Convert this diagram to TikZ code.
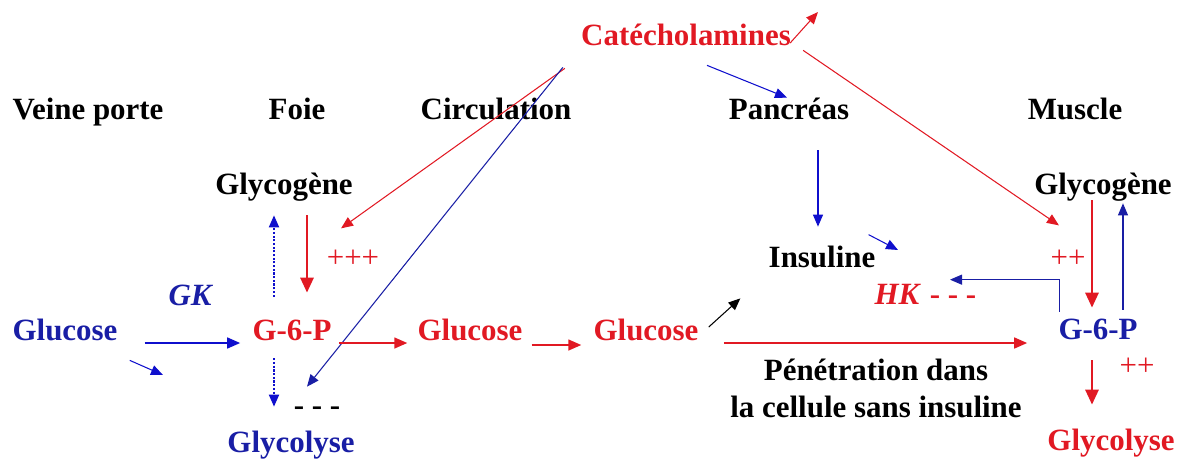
\documentclass[tikz,border=0pt]{standalone}
\usepackage{fontspec}
\setmainfont{Liberation Serif}
\usetikzlibrary{arrows.meta}

\definecolor{cred}{RGB}{225,25,35}
\definecolor{cblue}{RGB}{25,30,165}
\definecolor{ablue}{RGB}{15,15,205}

\begin{document}
\begin{tikzpicture}[
    x=0.02cm, y=-0.02cm,
    lbl/.style={inner sep=0pt,font=\fontsize{17.6}{21}\selectfont\bfseries,text height=0.42cm,text depth=0.14cm},
    signs/.style={inner sep=0pt,font=\fontsize{17.6}{21}\selectfont,text height=0.42cm,text depth=0.14cm},
    arrow/.style={-{Triangle[length=0.24cm,width=0.2cm]},line width=0.6pt},
    dotarrow/.style={arrow,line width=1.1pt,dash pattern=on 1.2pt off 0.9pt},
    midarrow/.style={-{Triangle[length=0.26cm,width=0.22cm]},line width=0.9pt},
    bigarrow/.style={-{Triangle[length=0.3cm,width=0.26cm]},line width=1.6pt}
]
\useasboundingbox (0,0) rectangle (1184,461);

% titres des colonnes
\node[lbl,cred] (catec) at (686,38) {Catécholamines};
\node[lbl] (veine) at (88,112) {Veine porte};
\node[lbl] (foie) at (297,112) {Foie};
\node[lbl] (circ) at (496,112) {Circulation};
\node[lbl] (panc) at (789,112) {Pancréas};
\node[lbl] (musc) at (1075,112) {Muscle};

% foie
\node[lbl] (glyL) at (284,187) {Glycogène};
\node[signs,cred] (plusL) at (353,260) {+++};
\node[lbl,cblue,font=\fontsize{17.6}{21}\selectfont\bfseries\itshape] (gk) at (190,298) {GK};
\node[lbl,cblue] (glcL) at (65,333) {Glucose};
\node[lbl,cred] (g6pL) at (292,333) {G-6-P};
\node[lbl] (dashL) at (317,408) {- - -};
\node[lbl,cblue] (glysL) at (291,445) {Glycolyse};

% circulation
\node[lbl,cred] (glcA) at (470,333) {Glucose};
\node[lbl,cred] (glcB) at (646,333) {Glucose};

% pancreas et muscle
\node[lbl] (insul) at (822,260) {Insuline};
\node[lbl,cred,font=\fontsize{17.6}{21}\selectfont\bfseries\itshape] (hk) at (897,297) {HK};
\node[lbl,cred] (dashR) at (953,297) {- - -};
\node[lbl,align=center,text height=,text depth=] (penet) at (876,388) {Pénétration dans\\la cellule sans insuline};
\node[lbl] (glyR) at (1103,187) {Glycogène};
\node[signs,cred] (plusA) at (1068,260) {++};
\node[lbl,cblue] (g6pR) at (1098,332) {G-6-P};
\node[signs,cred] (plusB) at (1137,368) {++};
\node[lbl,cred] (glysR) at (1111,443) {Glycolyse};

% bouts libres
\coordinate (vp) at (163,375);
\coordinate (ins) at (898,250);
\coordinate (up) at (818,12);

% foie
\draw[midarrow,ablue] ([shift={(27,10)}]glcL.east) -- ([shift={(-12,10)}]g6pL.west);
\draw[arrow,ablue] ([shift={(12,13)}]glcL.south east) -- (vp);
\draw[dotarrow,ablue] ([shift={(-18,-22)}]g6pL.north) -- ([shift={(-10,14)}]glyL.south);
\draw[dotarrow,ablue] ([shift={(-18,11)}]g6pL.south) -- ([shift={(-17,-24)}]glysL.north);
\draw[bigarrow,cred] ([shift={(23,14)}]glyL.south) -- ([shift={(15,-26)}]g6pL.north);
\draw[arrow,cred] ([shift={(-16,16)}]catec.south west) -- ([shift={(-12,27)}]glyL.south east);
\draw[arrow,cblue] ([shift={(-18,15)}]catec.south west) -- ([shift={(16,-44)}]glysL.north);

% circulation
\draw[midarrow,cred] ([shift={(7,10)}]g6pL.east) -- ([shift={(-10,10)}]glcA.west);
\draw[midarrow,cred] ([shift={(9,12)}]glcA.east) -- ([shift={(-12,12)}]glcB.west);
\draw[arrow,black] ([shift={(10,-6)}]glcB.east) -- ([shift={(-28,24)}]insul.south west);
\draw[midarrow,cred] ([shift={(25,10)}]glcB.east) -- ([shift={(-31,11)}]g6pR.west);

% pancreas
\draw[arrow,ablue] ([shift={(21,13)}]catec.south) -- ([shift={(-2,0)}]panc.north);
\draw[arrow,ablue] ([shift={(29,24)}]panc.south) -- ([shift={(-4,-19)}]insul.north);
\draw[arrow,ablue] ([shift={(-7,-11)}]insul.north east) -- (ins);

% muscle
\draw[arrow,cred] ([shift={(-1,5)}]catec.east) -- (up);
\draw[arrow,cred] ([shift={(12,-2)}]catec.south east) -- ([shift={(25,24)}]glyR.south west);
\draw[bigarrow,cred] ([shift={(-11,-1)}]glyR.south) -- ([shift={(-6,-10)}]g6pR.north);
\draw[arrow,cblue] ([shift={(25,-8)}]g6pR.north) -- ([shift={(20,2)}]glyR.south);
\draw[arrow,cblue] ([shift={(1,-6)}]g6pR.north west) |- ([shift={(-3,-3)}]dashR.north);
\draw[bigarrow,cred] ([shift={(-6,14)}]g6pR.south) -- ([shift={(-19,-24)}]glysR.north);

\end{tikzpicture}
\end{document}
